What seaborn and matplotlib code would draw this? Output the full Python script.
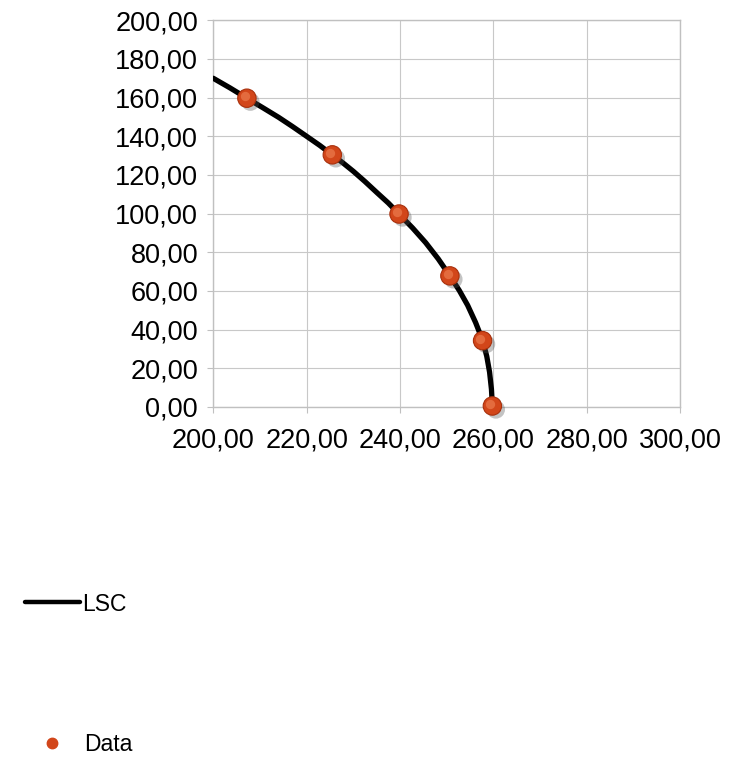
import matplotlib
matplotlib.use("Agg")
import matplotlib.pyplot as plt
import matplotlib.patheffects as pe
import matplotlib.transforms as mtransforms
from matplotlib.lines import Line2D
from matplotlib.ticker import FuncFormatter
import seaborn as sns
import pandas as pd

# Measured data points
data_x = [207.2, 225.5, 239.8, 250.7, 257.7, 259.8]
data_y = [159.7, 130.4, 99.8, 67.8, 34.3, 0.5]

# LSC curve
lsc_x = [200.0, 203.6, 207.2, 210.6, 214.0, 217.0, 220.0, 222.8, 225.5, 227.8, 230.0, 232.5, 235.0,
         237.5, 239.8, 242.7, 245.5, 248.2, 250.7, 252.7, 254.5, 256.2, 257.7, 258.6, 259.2, 259.6, 259.8]
lsc_y = [170.0, 165.0, 159.7, 154.8, 149.8, 145.0, 140.0, 135.3, 130.4, 126.2, 121.9, 116.6, 111.0,
         105.5, 99.8, 92.6, 85.0, 76.6, 67.8, 60.3, 52.6, 43.7, 34.5, 26.2, 18.0, 9.2, 0.5]

x_ticks = [200, 220, 240, 260, 280, 300]
y_ticks = [0, 20, 40, 60, 80, 100, 120, 140, 160, 180, 200]

sns.set_style("whitegrid", {"grid.color": "#c8c8c8", "axes.edgecolor": "#c0c0c0"})
plt.rcParams['font.family'] = ['Liberation Sans', 'DejaVu Sans']

points = pd.DataFrame({'x': data_x, 'y': data_y})
curve = pd.DataFrame({'x': lsc_x, 'y': lsc_y})

fig = plt.figure(figsize=(7.34, 7.57), dpi=100)
ax = fig.add_axes([0.2906, 0.4624, 0.6358, 0.5108])

sns.lineplot(data=curve, x='x', y='y', sort=False, color='black', linewidth=3.8, ax=ax, zorder=3)

# sphere-like markers: shadow, body, highlight
sns.scatterplot(data=points, x='x', y='y', s=175, color='#d2461a', edgecolor='#a8300c', linewidth=0.8, ax=ax, zorder=4,
                clip_on=False,
                path_effects=[pe.SimplePatchShadow(offset=(2.5, -2.5), shadow_rgbFace='#555555', alpha=0.35), pe.Normal()])
hl = mtransforms.offset_copy(ax.transData, fig=fig, x=-1.5, y=1.5, units='points')
ax.scatter(data_x, data_y, s=45, color='#f28a5c', alpha=0.55, linewidths=0, transform=hl, zorder=5, clip_on=False)

ax.set_xlim(200, 300)
ax.set_ylim(0, 200)
ax.set_xticks(x_ticks)
ax.set_yticks(y_ticks)
fmt = FuncFormatter(lambda v, p: f"{v:.2f}".replace('.', ','))
ax.xaxis.set_major_formatter(fmt)
ax.yaxis.set_major_formatter(fmt)
ax.tick_params(axis='both', labelsize=19.5, length=4, color='#c0c0c0', labelcolor='#000000')
ax.tick_params(axis='x', pad=11)
ax.tick_params(axis='y', pad=7)
ax.tick_params(axis='both', which='both', bottom=True, left=True)
ax.set_xlabel('')
ax.set_ylabel('')
for s in ax.spines.values():
    s.set_linewidth(1)

h_line = Line2D([], [], color='black', linewidth=3.2)
h_dot = Line2D([], [], color='#d2461a', marker='o', markersize=7.5, linestyle='None')
fig.legend(handles=[h_line], labels=['LSC'], loc='center left', bbox_to_anchor=(0.034, 0.2021),
           frameon=False, fontsize=16.5, handlelength=2.4, handletextpad=0.1, borderpad=0, borderaxespad=0,
           labelcolor='#000000')
fig.legend(handles=[h_dot], labels=['Data'], loc='center left', bbox_to_anchor=(0.034, 0.0159),
           frameon=False, fontsize=16.5, handlelength=2.4, handletextpad=0.2, borderpad=0, borderaxespad=0,
           labelcolor='#000000')

fig.savefig('out.png', dpi=100)
